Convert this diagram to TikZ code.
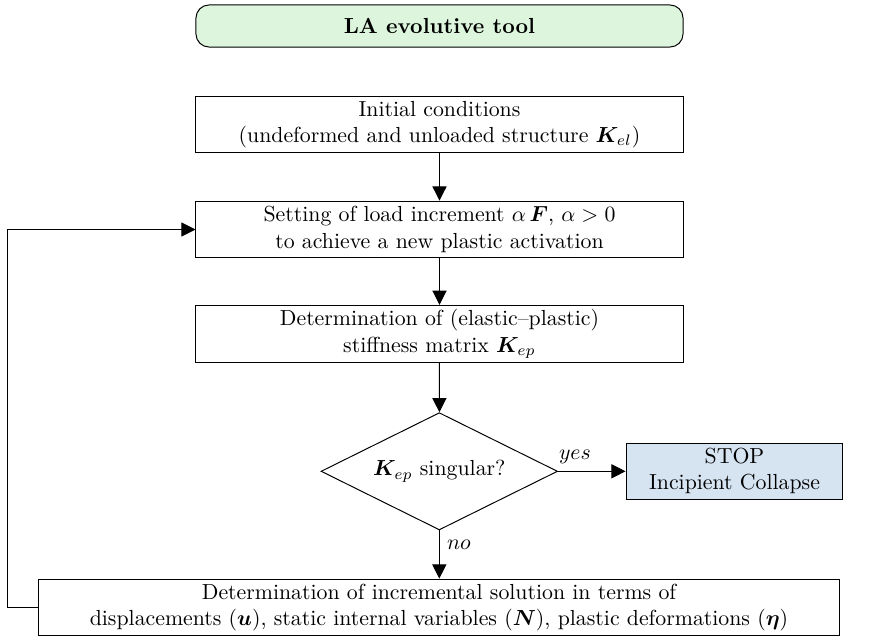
\documentclass[tikz,border=0pt]{standalone}
\usepackage{amsmath,bm}
\usetikzlibrary{shapes.geometric,arrows.meta}
\definecolor{titlegreen}{RGB}{220,245,220}
\definecolor{stopblue}{RGB}{214,228,242}
\begin{document}
\begin{tikzpicture}[x=0.4587pt,y=-0.4587pt,
  box/.style={draw, line width=0.45pt, minimum width=223.4pt, minimum height=26.1pt, align=center, inner sep=2pt},
  titlebox/.style={draw, line width=0.45pt, rounded corners=6pt, fill=titlegreen, minimum width=223.4pt, minimum height=19.3pt, font=\bfseries},
  stopbox/.style={draw, line width=0.45pt, fill=stopblue, minimum width=99.5pt, minimum height=25.7pt, align=center, inner sep=2pt},
  widebox/.style={draw, line width=0.45pt, minimum width=367pt, minimum height=26.1pt, align=center, inner sep=2pt},
  decision/.style={draw, line width=0.45pt, diamond, aspect=2, minimum width=108.5pt, minimum height=53.8pt, inner sep=0pt},
  flow/.style={draw, line width=0.45pt, -{Triangle[length=6.5pt,width=6.5pt]}},
  lbl/.style={font=\itshape}
]
\useasboundingbox (0,0) rectangle (875,636);

\node[titlebox] (title) at (439.5,26) {LA evolutive tool};
\node[box] (init) at (439.5,124.5) {Initial conditions\\(undeformed and unloaded structure $\boldsymbol{K}_{el}$)};
\node[box] (set) at (439.5,229.5) {Setting of load increment $\alpha\,\boldsymbol{F}$, $\alpha>0$\\to achieve a new plastic activation};
\node[box] (det) at (439.5,334) {Determination of (elastic--plastic)\\stiffness matrix $\boldsymbol{K}_{ep}$};
\node[decision] (dec) at (439.3,471.3) {$\boldsymbol{K}_{ep}$ singular?};
\node[stopbox] (stop) at (734.5,471.3) {STOP\\Incipient Collapse};
\node[widebox] (sol) at (439,607.5) {Determination of incremental solution in terms of\\displacements ($\boldsymbol{u}$), static internal variables ($\boldsymbol{N}$), plastic deformations ($\boldsymbol{\eta}$)};

\coordinate (loop) at (7,607.5);

\draw[flow] (init) -- (set);
\draw[flow] (set) -- (det);
\draw[flow] (det) -- (dec);
\draw[flow] (dec.east) -- node[above, pos=0.25] {$yes$} (stop.west);
\draw[flow] (dec.south) -- node[right, pos=0.3] {$no$} (sol.north -| dec.south);
\draw[flow] (sol.west) -- (loop) |- (set.west);
\end{tikzpicture}
\end{document}
